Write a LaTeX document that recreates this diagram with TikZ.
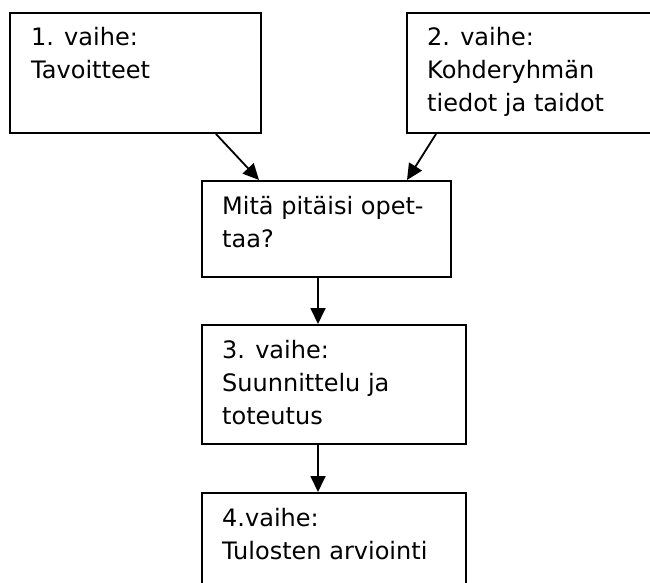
\documentclass[tikz,border=0pt]{standalone}
\usepackage{fontspec}
\setmainfont{DejaVu Sans}
\usetikzlibrary{arrows.meta,calc}
\newcommand{\twolines}[1]{\vtop{\halign{##\hfil\cr #1\crcr}}}
\begin{document}
\begin{tikzpicture}[x=1pt,y=-1pt,
  box/.style={draw,line width=2pt,rectangle,inner sep=0pt},
  txt/.style={anchor=base west,inner sep=0pt,font=\fontsize{24}{33}\selectfont},
  arr/.style={line width=1.8pt,-{Triangle[length=16pt,width=15pt]}}]
\clip (0,0) rectangle (650,583);
\fill[white] (0,0) rectangle (650,583);
\node[box,minimum width=251pt,minimum height=120pt] (b1) at (135.5,73) {};
\node[box,minimum width=253pt,minimum height=120pt] (b2) at (533.5,73) {};
\node[box,minimum width=249pt,minimum height=96pt] (b3) at (326.5,229) {};
\node[box,minimum width=264pt,minimum height=119pt] (b4) at (334,384.5) {};
\node[box,minimum width=264pt,minimum height=120pt] (b5) at (334,553) {};
\node[txt] (t1) at ($(b1.north west)+(22,34)$) {\twolines{1. vaihe:\cr Tavoitteet}};
\node[txt] (t2) at ($(b2.north west)+(21,34)$) {\twolines{2. vaihe:\cr Kohderyhmän\cr tiedot ja taidot}};
\node[txt] (t3) at ($(b3.north west)+(21,34)$) {\twolines{Mitä pitäisi opet-\cr taa?}};
\node[txt] (t4) at ($(b4.north west)+(21,34)$) {\twolines{3. vaihe:\cr Suunnittelu ja\cr toteutus}};
\node[txt] (t5) at ($(b5.north west)+(21,34)$) {\twolines{4.vaihe:\cr Tulosten arviointi}};
\coordinate (a1s) at ($(b1.south west)+(207,0)$);
\coordinate (a1e) at ($(b3.north west)+(58,0)$);
\coordinate (a2s) at ($(b2.south west)+(30,0)$);
\coordinate (a2e) at ($(b3.north west)+(206,0)$);
\coordinate (a3s) at ($(b3.south west)+(117,0)$);
\coordinate (a3e) at ($(b4.north west)+(117,0)$);
\coordinate (a4s) at ($(b4.south west)+(117,0)$);
\coordinate (a4e) at ($(b5.north west)+(117,0)$);
\draw[arr] (a1s) -- (a1e);
\draw[arr] (a2s) -- (a2e);
\draw[arr] (a3s) -- (a3e);
\draw[arr] (a4s) -- (a4e);
\end{tikzpicture}
\end{document}
